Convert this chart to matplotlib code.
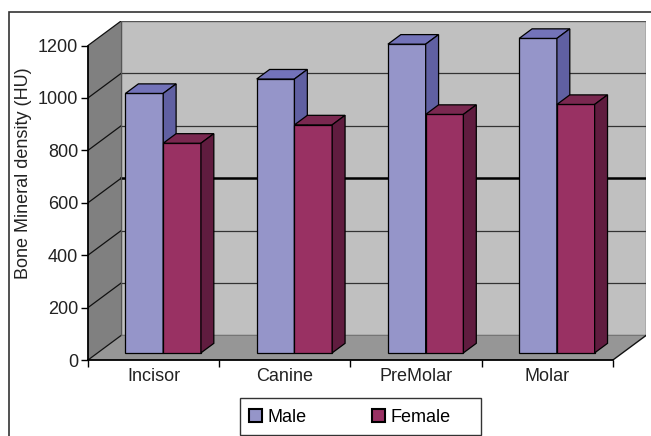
import matplotlib
matplotlib.use("Agg")
import matplotlib.pyplot as plt
from matplotlib.patches import Polygon, Rectangle, Patch

plt.rcParams['font.family'] = ['Liberation Sans', 'DejaVu Sans']

categories = ["Incisor", "Canine", "PreMolar", "Molar"]
male = [990, 1045, 1178, 1200]
female = [800, 870, 910, 948]
series_names = ["Male", "Female"]
yticks = [0, 200, 400, 600, 800, 1000, 1200]

# style
W, H = 651, 436
DX, DY = 0.252, 93.5          # full depth offset (category units, value units)
D0, BD = 0.29, 0.39           # bar front depth fraction, bar depth fraction
BW = 0.2875                   # bar width in category units
YMAX = 1200
FS = 13
faces = {
    "Male": ("#9595c9", "#7373b9", "#6060a2"),
    "Female": ("#993163", "#7a2850", "#601c3f"),
}

fig = plt.figure(figsize=(W / 100, H / 100), dpi=100)
fig.patch.set_facecolor("white")
ncat = len(categories)
ax = fig.add_axes([88 / W, 76 / H, 558 / W, 339 / H])
ax.set_xlim(0, ncat + DX)
ax.set_ylim(0, YMAX + DY)
ax.patch.set_visible(False)

# walls
ax.add_patch(Polygon([(DX, DY), (ncat + DX, DY), (ncat + DX, YMAX + DY), (DX, YMAX + DY)],
                     closed=True, facecolor="#c0c0c0", edgecolor="#555555", lw=1.0, zorder=1))
ax.add_patch(Polygon([(0, 0), (DX, DY), (DX, YMAX + DY), (0, YMAX)],
                     closed=True, facecolor="#808080", edgecolor="none", zorder=1))
ax.add_patch(Polygon([(0, 0), (ncat, 0), (ncat + DX, DY), (DX, DY)],
                     closed=True, facecolor="#969696", edgecolor="none", zorder=1))

# gridlines (back wall + side wall)
for v in yticks:
    lw_back = 1.8 if v == 600 else 0.9
    col_back = "#000000" if v == 600 else "#333333"
    if 0 < v < YMAX:
        ax.plot([DX, ncat + DX], [v + DY, v + DY], color=col_back, lw=lw_back, zorder=2)
    ax.plot([0, DX], [v, v + DY], color="#111111", lw=0.9, zorder=2)
ax.plot([ncat, ncat + DX], [0, DY], color="#111111", lw=1.0, zorder=2)
ax.plot([DX, DX], [DY, YMAX + DY], color="#555555", lw=0.8, zorder=2)

# bars
for i in range(ncat):
    for j, (name, vals) in enumerate(zip(series_names, [male, female])):
        v = vals[i]
        fc, tc, sc = faces[name]
        x0 = i + 0.5 - BW + j * BW + D0 * DX
        y0 = D0 * DY
        ddx, ddy = BD * DX, BD * DY
        ax.add_patch(Rectangle((x0, y0), BW, v, facecolor=fc, edgecolor="black", lw=0.9, zorder=3 + j))
        ax.add_patch(Polygon([(x0, y0 + v), (x0 + BW, y0 + v), (x0 + BW + ddx, y0 + v + ddy),
                              (x0 + ddx, y0 + v + ddy)], closed=True,
                             facecolor=tc, edgecolor="black", lw=0.9, zorder=3 + j))
        ax.add_patch(Polygon([(x0 + BW, y0), (x0 + BW, y0 + v), (x0 + BW + ddx, y0 + v + ddy),
                              (x0 + BW + ddx, y0 + ddy)], closed=True,
                             facecolor=sc, edgecolor="black", lw=0.9, zorder=3 + j))

# axes
for s in ["top", "right"]:
    ax.spines[s].set_visible(False)
ax.spines["left"].set_bounds(0, YMAX)
ax.spines["bottom"].set_bounds(0, ncat)
ax.spines["left"].set_linewidth(1.3)
ax.spines["bottom"].set_linewidth(1.3)
ax.spines["left"].set_zorder(6)
ax.spines["bottom"].set_zorder(6)
ax.set_yticks(yticks)
ax.set_yticklabels([str(t) for t in yticks], fontsize=FS, color="#222222")
ax.tick_params(axis="y", direction="out", length=5, width=1.0, pad=2)
ax.set_xticks(range(ncat + 1))
ax.set_xticklabels([""] * (ncat + 1))
ax.set_xticks([i + 0.5 for i in range(ncat)], minor=True)
ax.set_xticklabels(categories, minor=True, fontsize=FS, color="#222222")
ax.tick_params(axis="x", which="major", direction="out", length=5, width=1.0)
ax.tick_params(axis="x", which="minor", length=0, pad=6)

fig.text(24 / W, 1 - 173 / H, "Bone Mineral density (HU)", rotation=90,
         ha="center", va="center", fontsize=FS, color="#222222")

# legend
fig.add_artist(Rectangle((240 / W, 1 - 435 / H), (481 - 240) / W, (435 - 398) / H,
                         transform=fig.transFigure, facecolor="white", edgecolor="#333333", lw=1.0))
handles = [Patch(facecolor=faces[n][0], edgecolor="black", lw=1.5) for n in series_names]
fig.legend(handles, series_names, loc="center left", bbox_to_anchor=(236 / W, 1 - 417 / H),
           ncol=2, frameon=False, fontsize=13, handlelength=0.75, handleheight=0.75,
           handletextpad=0.3, columnspacing=3.6, borderpad=0.2)

# outer frame
fig.add_artist(Rectangle((9 / W, -0.1), 1.2, 1 - 12 / H + 0.1, transform=fig.transFigure,
                         facecolor="none", edgecolor="#333333", lw=1.2))

fig.savefig("out.png", dpi=100)
